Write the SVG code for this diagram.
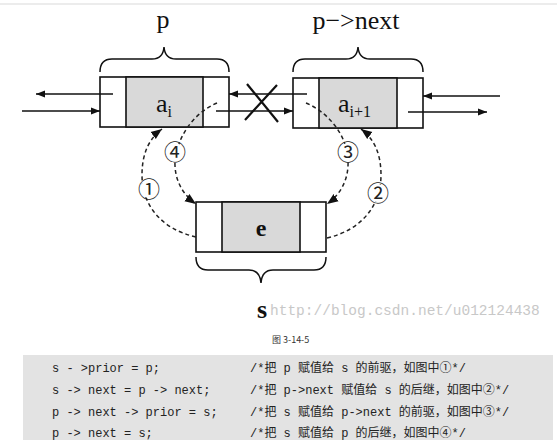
<svg xmlns="http://www.w3.org/2000/svg" width="557" height="448" viewBox="0 0 557 448">
<style>
.box{fill:#fff;stroke:#111;stroke-width:1.6}
.mid{fill:#d9d9d9;stroke:#111;stroke-width:1.6}
.ln{fill:none;stroke:#111;stroke-width:1.6}
.dash{fill:none;stroke:#222;stroke-width:1.5;stroke-dasharray:4 3}
.brace{fill:none;stroke:#111;stroke-width:1.5}
.serif{font-family:"Liberation Serif","DejaVu Serif",serif;fill:#111}
.num{font-family:"Noto Sans CJK SC",sans-serif;font-size:22px;fill:#222;text-anchor:middle}
.code{font-family:"Liberation Mono","Noto Sans CJK SC",monospace;font-size:12px;fill:#222}
</style>
<defs>
<marker id="ah" viewBox="0 0 10 10" refX="10" refY="5" markerWidth="9" markerHeight="9" markerUnits="userSpaceOnUse" orient="auto">
<path d="M0,1 L10,5 L0,9 Z" fill="#111"/>
</marker>
<marker id="ah2" viewBox="0 0 10 10" refX="10" refY="5" markerWidth="11" markerHeight="11" markerUnits="userSpaceOnUse" orient="auto">
<path d="M0,1 L10,5 L0,9 Z" fill="#111"/>
</marker>
</defs>
<rect x="0" y="0" width="557" height="448" fill="#fff"/>
<line x1="0" y1="4" x2="557" y2="4" stroke="#e6e6e6" stroke-width="1.5"/>

<g id="node-p">
<rect class="box" x="100" y="77" width="129" height="50"/>
<rect class="mid" x="126" y="77" width="77" height="50"/>
<text class="serif" x="156" y="112" font-size="26">a<tspan font-size="16" dy="5">i</tspan></text>
<path class="brace" d="M100,72 Q100,59 112,59 L152,59 Q163,59 164,47 Q165,59 176,59 L217,59 Q229,59 229,72"/>
<text class="serif" x="163" y="28" font-size="26" text-anchor="middle">p</text>
</g>

<g id="node-pnext">
<rect class="box" x="293" y="78" width="130" height="50"/>
<rect class="mid" x="319" y="78" width="78" height="50"/>
<text class="serif" x="338" y="112" font-size="26">a<tspan font-size="16" dy="5">i+1</tspan></text>
<path class="brace" d="M293,72 Q293,59 305,59 L346,59 Q357,59 358,47 Q359,59 370,59 L411,59 Q423,59 423,72"/>
<text class="serif" x="356" y="29" font-size="26" text-anchor="middle">p−&gt;next</text>
</g>

<g id="node-s">
<rect class="box" x="196" y="202" width="130" height="50"/>
<rect class="mid" x="222" y="202" width="78" height="50"/>
<text class="serif" x="261" y="236" font-size="24" font-weight="bold" text-anchor="middle">e</text>
<path class="brace" d="M196,257 Q196,270 208,270 L249,270 Q260,270 261,283 Q262,270 273,270 L314,270 Q326,270 326,257"/>
</g>

<text x="270" y="315" font-family="Liberation Mono, monospace" font-size="14.5" fill="#c8c8c8">http://blog.csdn.net/u012124438</text>
<text class="serif" x="262" y="318" font-size="26" font-weight="bold" text-anchor="middle">s</text>
<text x="272" y="343" font-family="Noto Sans CJK SC, sans-serif" font-size="9" fill="#333">图 3-14-5</text>

<g id="connectors">
<line class="ln" x1="113" y1="94" x2="36" y2="94" marker-end="url(#ah)"/>
<line class="ln" x1="22" y1="111" x2="100" y2="111" marker-end="url(#ah)"/>
<line class="ln" x1="307" y1="94" x2="229" y2="94" marker-end="url(#ah)"/>
<line class="ln" x1="216" y1="111" x2="293" y2="111" marker-end="url(#ah)"/>
<line class="ln" x1="500" y1="96" x2="423" y2="96" marker-end="url(#ah)"/>
<line class="ln" x1="408" y1="112" x2="487" y2="112" marker-end="url(#ah)"/>
<path d="M247,84 L278,122 M277,85 L245,120" fill="none" stroke="#111" stroke-width="2.2"/>
<path class="dash" d="M196,237 C161,229 142,205 142,175 C142,152 150,138 162,129" marker-end="url(#ah2)"/>
<path class="dash" d="M327,238 C362,230 381,205 381,175 C381,152 373,138 361,129" marker-end="url(#ah2)"/>
<path class="dash" d="M217,103 C195,112 178,135 175,160 C174,180 183,195 196,204" marker-end="url(#ah2)"/>
<path class="dash" d="M306,103 C328,112 347,135 348,160 C349,180 340,195 327,204" marker-end="url(#ah2)"/>
</g>

<g id="labels">
<circle cx="149" cy="189" r="9" fill="#fff"/><text class="num" x="149" y="197">①</text>
<circle cx="378" cy="193" r="9" fill="#fff"/><text class="num" x="378" y="201">②</text>
<circle cx="348" cy="152" r="9" fill="#fff"/><text class="num" x="348" y="160">③</text>
<circle cx="175" cy="152" r="9" fill="#fff"/><text class="num" x="175" y="160">④</text>
</g>

<g id="code">
<rect x="23" y="355" width="530" height="85" fill="#e3e3e3"/>
<text class="code" x="52" y="372" xml:space="preserve">s - &gt;prior = p;</text>
<text class="code" x="52" y="394" xml:space="preserve">s -&gt; next = p -&gt; next;</text>
<text class="code" x="52" y="416" xml:space="preserve">p -&gt; next -&gt; prior = s;</text>
<text class="code" x="52" y="437" xml:space="preserve">p -&gt; next = s;</text>
<text class="code" x="250" y="372" xml:space="preserve">/*把 p 赋值给 s 的前驱，如图中①*/</text>
<text class="code" x="250" y="394" xml:space="preserve">/*把 p-&gt;next 赋值给 s 的后继，如图中②*/</text>
<text class="code" x="250" y="416" xml:space="preserve">/*把 s 赋值给 p-&gt;next 的前驱，如图中③*/</text>
<text class="code" x="250" y="437" xml:space="preserve">/*把 s 赋值给 p 的后继，如图中④*/</text>
</g>
</svg>
